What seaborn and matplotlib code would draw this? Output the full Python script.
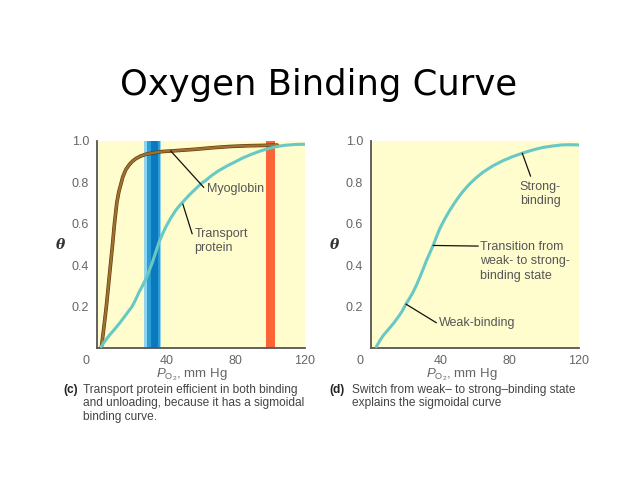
import matplotlib
matplotlib.use("Agg")
import matplotlib.pyplot as plt
import matplotlib.patheffects as pe
from matplotlib import transforms
import seaborn as sns
import pandas as pd

# ---------------- data ----------------
# panel (c): myoglobin (hyperbolic) and transport protein (sigmoidal)
myo_po2 = [2.3, 3.8, 5.2, 6.4, 7.6, 8.8, 9.9, 11.3, 12.5, 13.9, 14.7, 16.5,
           18.5, 20.3, 22.3, 25, 28.1, 32.5, 37.6, 43.3, 50, 56.7, 66, 75.8,
           87, 98.7, 104]
myo_theta = [0.0, 0.1, 0.2, 0.3, 0.4, 0.5, 0.6, 0.704, 0.757, 0.8, 0.826,
             0.862, 0.886, 0.902, 0.915, 0.927, 0.936, 0.943, 0.949, 0.952,
             0.956, 0.96, 0.967, 0.973, 0.977, 0.979, 0.98]
tp_po2 = [2.3, 4.5, 7.1, 10, 12.8, 15.5, 18.5, 20, 22, 24.2, 26.2, 28.1, 30,
          31.9, 33.8, 35.7, 37.6, 39.5, 42.3, 45.2, 48, 51, 53.8, 56.7, 60,
          62.4, 66, 70, 75, 79.6, 84, 89.1, 94, 98.7, 103, 108.2, 114, 119.7]
tp_theta = [0.008, 0.036, 0.064, 0.092, 0.12, 0.15, 0.184, 0.2, 0.232, 0.272,
            0.303, 0.336, 0.375, 0.416, 0.465, 0.512, 0.55, 0.584, 0.626,
            0.664, 0.693, 0.72, 0.745, 0.768, 0.795, 0.808, 0.833, 0.856,
            0.88, 0.899, 0.918, 0.936, 0.951, 0.963, 0.972, 0.979, 0.983,
            0.984]
# panel (d): weak -> strong binding
sig_po2 = [2.9, 5, 7.1, 10, 12.8, 15.2, 17.6, 20, 22, 24.2, 26.2, 28.1, 30,
           31.9, 33.8, 35.7, 37.6, 39.5, 42.3, 45.2, 48, 51, 53.8, 56.7, 60.5,
           64.3, 70, 75.8, 81.5, 87.2, 93, 98.7, 104, 110, 115, 119.7]
sig_theta = [0.008, 0.038, 0.064, 0.092, 0.12, 0.147, 0.176, 0.213, 0.24,
             0.272, 0.307, 0.344, 0.383, 0.424, 0.46, 0.496, 0.537, 0.576,
             0.622, 0.664, 0.70, 0.736, 0.765, 0.792, 0.822, 0.848, 0.879,
             0.904, 0.924, 0.941, 0.956, 0.968, 0.975, 0.981, 0.982, 0.981]

blue_outer = (27.1, 36.8)
blue_mid = (28.8, 36.0)
blue_core = (30.8, 34.8)
red_band = (97.7, 102.4)

x_ticks = [0, 20, 40, 60, 80, 100, 120]
x_tick_labels = ["0", "", "40", "", "80", "", "120"]
y_ticks = [0.2, 0.4, 0.6, 0.8, 1.0]
y_tick_labels = ["0.2", "0.4", "0.6", "0.8", "1.0"]

title = "Oxygen Binding Curve"
xlabel = r"$P_{\mathrm{O}_2}$, mm Hg"
caption_c = ("Transport protein efficient in both binding\n"
             "and unloading, because it has a sigmoidal\n"
             "binding curve.")
caption_d = ("Switch from weak\u2013 to strong\u2013binding state\n"
             "explains the sigmoidal curve")

# ---------------- style ----------------
sns.set_theme(style="white")
plt.rcParams["font.family"] = ["Liberation Sans", "DejaVu Sans"]
plt.rcParams["mathtext.fontset"] = "custom"
plt.rcParams["mathtext.rm"] = "Liberation Sans"
plt.rcParams["mathtext.it"] = "Liberation Sans:italic"

BG = "#FFFDCD"
TEAL = "#68C9C4"
BROWN = "#A0702E"
AX = "#555555"
TXT = "#555555"

fig = plt.figure(figsize=(6.38, 4.79), dpi=100)
fig.patch.set_facecolor("white")
axc = fig.add_axes([0.1525, 0.2729, 0.3256, 0.4328])
axd = fig.add_axes([0.582, 0.2729, 0.3256, 0.4328])


def style_axes(ax, label_x):
    ax.set_facecolor(BG)
    ax.set_xlim(0, 120)
    ax.set_ylim(0, 1.0)
    for s in ["top", "right"]:
        ax.spines[s].set_visible(False)
    for s in ["left", "bottom"]:
        ax.spines[s].set_color(AX)
        ax.spines[s].set_linewidth(1.3)
    ax.set_xticks(x_ticks)
    ax.set_xticklabels(x_tick_labels)
    ax.set_yticks(y_ticks)
    ax.set_yticklabels(y_tick_labels)
    ax.tick_params(axis="both", direction="in", length=5, width=1.2,
                   color=AX, labelcolor="#666666", labelsize=9)
    ax.tick_params(axis="x", pad=5)
    ax.tick_params(axis="y", pad=6)
    # shift the "0" label to the left of the origin
    lbl0 = ax.get_xticklabels()[0]
    lbl0.set_transform(lbl0.get_transform()
                       + transforms.ScaledTranslation(-0.11, 0, fig.dpi_scale_trans))
    trans = transforms.blended_transform_factory(ax.transData, ax.transAxes)
    ax.text(label_x, -0.128, xlabel, transform=trans, ha="center", va="center",
            fontsize=9.5, color="#666666")
    ax.text(-0.178, 0.5, "\u03b8", transform=ax.transAxes, ha="center",
            va="center", fontsize=10, fontweight="bold", fontstyle="italic",
            family="DejaVu Serif", color="#333333")


# ---------- panel (c) ----------
style_axes(axc, 54.5)
axc.axvspan(*blue_outer, color="#8FD4EA", lw=0, zorder=1)
axc.axvspan(*blue_mid, color="#2A9ED6", lw=0, zorder=1)
axc.axvspan(*blue_core, color="#0C78BD", lw=0, zorder=1)
axc.axvspan(*red_band, color="#FA6436", lw=0, zorder=1)

df_myo = pd.DataFrame({"po2": myo_po2, "theta": myo_theta})
df_tp = pd.DataFrame({"po2": tp_po2, "theta": tp_theta})
sns.lineplot(data=df_myo, x="po2", y="theta", ax=axc, color=BROWN,
             linewidth=1.7, zorder=3)
axc.lines[-1].set_path_effects([pe.Stroke(linewidth=2.6, foreground="#5E3A10"),
                                pe.Normal()])
axc.lines[-1].set_solid_joinstyle("round")
sns.lineplot(data=df_tp, x="po2", y="theta", ax=axc, color=TEAL,
             linewidth=2.2, zorder=4)
axc.lines[-1].set_solid_joinstyle("round")
axc.set_xlabel("")
axc.set_ylabel("")

axc.plot([42.4, 61.5], [0.952, 0.776], color="#111111", lw=0.9, zorder=5)
axc.text(63.2, 0.768, "Myoglobin", ha="left", va="center", fontsize=9,
         color=TXT, zorder=5)
axc.plot([49.4, 54.8], [0.696, 0.552], color="#111111", lw=0.9, zorder=5)
axc.text(56.0, 0.519, "Transport\nprotein", ha="left", va="center",
         fontsize=9, color=TXT, zorder=5, linespacing=1.25)

# ---------- panel (d) ----------
style_axes(axd, 52)
df_sig = pd.DataFrame({"po2": sig_po2, "theta": sig_theta})
sns.lineplot(data=df_sig, x="po2", y="theta", ax=axd, color=TEAL,
             linewidth=2.2, zorder=4)
axd.lines[-1].set_solid_joinstyle("round")
axd.set_xlabel("")
axd.set_ylabel("")

axd.plot([87.2, 92], [0.941, 0.83], color="#111111", lw=0.9, zorder=5)
axd.text(85.7, 0.744, "Strong-\nbinding", ha="left", va="center",
         fontsize=9, color=TXT, linespacing=1.25)
axd.plot([35.7, 61.8], [0.496, 0.493], color="#111111", lw=0.9, zorder=5)
axd.text(62.8, 0.419, "Transition from\nweak- to strong-\nbinding state",
         ha="left", va="center", fontsize=9, color=TXT, linespacing=1.25)
axd.plot([20, 37.6], [0.213, 0.123], color="#111111", lw=0.9, zorder=5)
axd.text(38.8, 0.123, "Weak-binding", ha="left", va="center", fontsize=9,
         color=TXT)

# ---------- title & captions ----------
fig.text(0.5, 1 - 85 / 479, title, ha="center", va="center", fontsize=25.5,
         family="DejaVu Sans", color="black")

cap_y = 1 - 383.5 / 479
fig.text(63 / 638, cap_y, "(c)", ha="left", va="top", fontsize=8.6,
         fontweight="bold", color="#222222")
fig.text(83.3 / 638, cap_y, caption_c, ha="left", va="top", fontsize=8.6,
         color="#444444", linespacing=1.2)
fig.text(329 / 638, cap_y, "(d)", ha="left", va="top", fontsize=8.6,
         fontweight="bold", color="#222222")
fig.text(351.7 / 638, cap_y, caption_d, ha="left", va="top", fontsize=8.6,
         color="#444444", linespacing=1.2)

fig.savefig("out.png", dpi=100, facecolor="white")
